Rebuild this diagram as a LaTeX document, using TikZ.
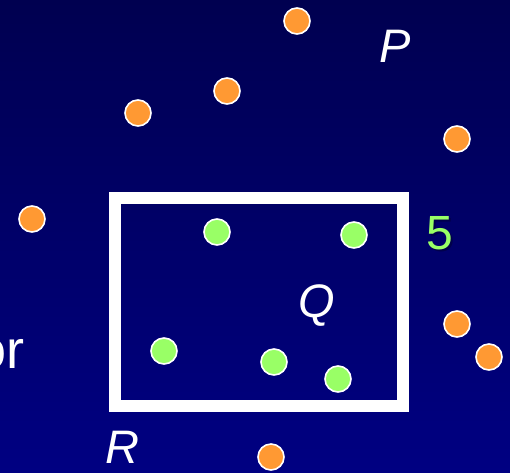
\documentclass[tikz,border=0pt]{standalone}
\usepackage{fontspec}
\setmainfont{Liberation Sans}
\definecolor{bgtop}{RGB}{0,0,80}
\definecolor{bgbot}{RGB}{0,0,130}
\definecolor{dotorange}{RGB}{255,153,51}
\definecolor{dotgreen}{RGB}{153,255,102}
\begin{document}
\begin{tikzpicture}[x=1pt,y=-1pt,
  dot/.style={circle,inner sep=0pt,minimum size=26pt,draw=white,line width=1.6pt},
  odot/.style={dot,fill=dotorange},
  gdot/.style={dot,fill=dotgreen},
  lbl/.style={text=white,inner sep=0pt,font=\fontsize{47}{50}\selectfont\itshape},
  box/.style={draw=white,line width=12pt}]
\useasboundingbox (0,0) rectangle (510,472);
\shade[top color=bgtop,bottom color=bgbot] (0,0) rectangle (510,472);
% box
\draw[box] (115,198) rectangle (403,406);
% orange dots
\node[odot] (o1) at (297,21) {};
\node[odot] (o2) at (227,91) {};
\node[odot] (o3) at (138,113) {};
\node[odot] (o4) at (457,139) {};
\node[odot] (o5) at (32,219) {};
\node[odot] (o6) at (457,324) {};
\node[odot] (o7) at (489,357) {};
\node[odot] (o8) at (271,457) {};
% green dots
\node[gdot] (g1) at (217,232) {};
\node[gdot] (g2) at (354,235) {};
\node[gdot] (g3) at (164,351) {};
\node[gdot] (g4) at (274,362) {};
\node[gdot] (g5) at (338,379) {};
% labels
\node[lbl,anchor=base] (P) at (395,62) {P};
\node[lbl,anchor=base] (Q) at (317,317) {Q};
\node[lbl,anchor=base] (R) at (122,463) {R};
\node[text=black!70!blue,inner sep=0pt,anchor=base,font=\fontsize{48}{50}\selectfont] (s5) at (441.5,251.5) {5};
\node[text=dotgreen,inner sep=0pt,anchor=base,font=\fontsize{48}{50}\selectfont] (five) at (439.5,249.5) {5};
\node[text=white,inner sep=0pt,anchor=base east,font=\fontsize{54}{58}\selectfont] (or) at (25,368) {or};
\end{tikzpicture}
\end{document}
